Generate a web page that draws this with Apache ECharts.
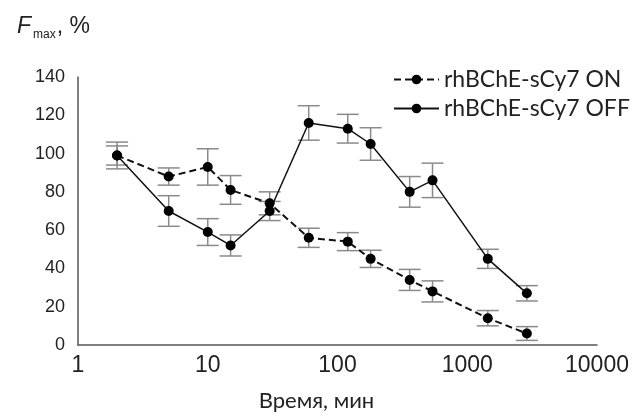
<!DOCTYPE html>
<html>
<head>
<meta charset="utf-8">
<script src="https://cdn.jsdelivr.net/npm/echarts@6/dist/echarts.min.js"></script>
<style>
  html, body { margin: 0; padding: 0; background: #fff; }
  #chart { width: 642px; height: 417px; }
</style>
</head>
<body>
<div id="chart"></div>
<script>
// время, мин
var times = [2, 5, 10, 15, 30, 60, 120, 180, 360, 540, 1440, 2880];
var onMean = [99, 88, 93, 81, 74, 56, 54, 45, 34, 28, 14, 6];
var onErr = [7, 4.5, 9.5, 7.5, 6, 5, 4.7, 4.5, 5.5, 5.5, 4, 3.6];
var offMean = [99, 70, 59, 52, 70, 116, 113, 105, 80, 86, 45, 27];
var offErr = [5, 8, 7, 5.5, 5, 9, 7.5, 8.5, 8, 9, 5, 4];
var seriesNames = ['rhBChE-sCy7 ON', 'rhBChE-sCy7 OFF'];

var numFont = '"Liberation Sans", Arial, sans-serif';
var textFont = 'Lato, "Open Sans", sans-serif';

function pairs(y) {
    return times.map(function (t, i) { return [t, y[i]]; });
}
function errData(y, e) {
    return times.map(function (t, i) { return [t, y[i], e[i]]; });
}
function renderErr(params, api) {
    var x = api.value(0), m = api.value(1), e = api.value(2);
    var hi = api.coord([x, m + e]);
    var lo = api.coord([x, m - e]);
    var w = 11;
    var st = { stroke: '#8a8a8a', lineWidth: 1.5 };
    return {
        type: 'group',
        children: [
            { type: 'line', shape: { x1: hi[0], y1: hi[1], x2: lo[0], y2: lo[1] }, style: st },
            { type: 'line', shape: { x1: hi[0] - w, y1: hi[1], x2: hi[0] + w, y2: hi[1] }, style: st },
            { type: 'line', shape: { x1: lo[0] - w, y1: lo[1], x2: lo[0] + w, y2: lo[1] }, style: st }
        ]
    };
}

var myChart = echarts.init(document.getElementById('chart'));
myChart.setOption({
    animation: false,
    title: {
        left: 12,
        top: 8,
        text: '{f|F}{s|max}{n|, %}',
        textStyle: {
            rich: {
                f: { fontFamily: numFont, fontSize: 23, fontStyle: 'italic', fontWeight: 'normal', color: '#222' },
                s: { fontFamily: numFont, fontSize: 12, fontWeight: 'normal', color: '#222', padding: [16, 1, 0, 2] },
                n: { fontFamily: numFont, fontSize: 23, fontWeight: 'normal', color: '#222' }
            }
        }
    },
    legend: {
        data: seriesNames,
        orient: 'vertical',
        left: 388,
        top: 63,
        itemWidth: 45,
        itemHeight: 12,
        itemGap: 6,
        textStyle: { fontFamily: textFont, fontSize: 23, color: '#222' }
    },
    grid: { left: 78, right: 45, top: 77, bottom: 72 },
    xAxis: {
        type: 'log',
        logBase: 10,
        min: 1,
        max: 10000,
        name: 'Время, мин',
        nameLocation: 'middle',
        nameGap: 45,
        nameTextStyle: { fontFamily: textFont, fontSize: 22, color: '#222', padding: [0, 42, 0, 0] },
        axisLine: { lineStyle: { color: '#555', width: 1.5 } },
        axisTick: { show: false },
        splitLine: { show: false },
        minorTick: { show: false },
        axisLabel: {
            fontFamily: numFont, fontSize: 23, color: '#222', margin: 9,
            formatter: function (v) { return String(v); }
        }
    },
    yAxis: {
        type: 'value',
        min: 0,
        max: 140,
        interval: 20,
        axisLine: { show: true, lineStyle: { color: '#555', width: 1.5 } },
        axisTick: { show: false },
        splitLine: { show: false },
        axisLabel: { fontFamily: numFont, fontSize: 18, color: '#222', margin: 13 }
    },
    series: [
        {
            type: 'custom',
            renderItem: renderErr,
            data: errData(onMean, onErr),
            z: 1
        },
        {
            type: 'custom',
            renderItem: renderErr,
            data: errData(offMean, offErr),
            z: 1
        },
        {
            name: seriesNames[0],
            type: 'line',
            data: pairs(onMean),
            symbol: 'circle',
            symbolSize: 10,
            itemStyle: { color: '#000' },
            lineStyle: { color: '#111', width: 2, type: [7, 4] },
            z: 3
        },
        {
            name: seriesNames[1],
            type: 'line',
            data: pairs(offMean),
            symbol: 'circle',
            symbolSize: 10,
            itemStyle: { color: '#000' },
            lineStyle: { color: '#111', width: 1.5 },
            z: 3
        }
    ]
});
</script>
</body>
</html>
